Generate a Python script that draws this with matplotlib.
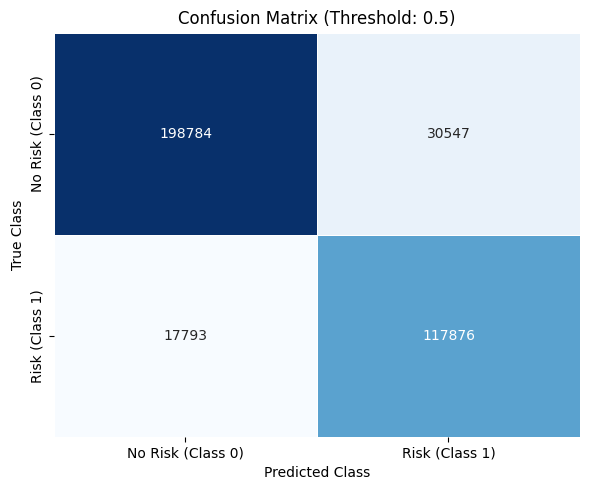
import numpy as np
import matplotlib
matplotlib.use('Agg')
import matplotlib.pyplot as plt
import seaborn as sns

labels = ['No Risk (Class 0)', 'Risk (Class 1)']
row_0 = [198784, 30547]
row_1 = [17793, 117876]

cm = np.array([row_0, row_1])

fig, ax = plt.subplots(figsize=(5.9, 4.9), dpi=100)
sns.heatmap(cm, annot=True, fmt='d', cmap='Blues', cbar=False,
            linewidths=0.5, linecolor='white',
            xticklabels=labels, yticklabels=labels, ax=ax)
ax.set_title('Confusion Matrix (Threshold: 0.5)')
ax.set_xlabel('Predicted Class')
ax.set_ylabel('True Class')
fig.subplots_adjust(left=0.0915, right=0.983, top=0.933, bottom=0.108)
plt.savefig('out.png', dpi=100)
